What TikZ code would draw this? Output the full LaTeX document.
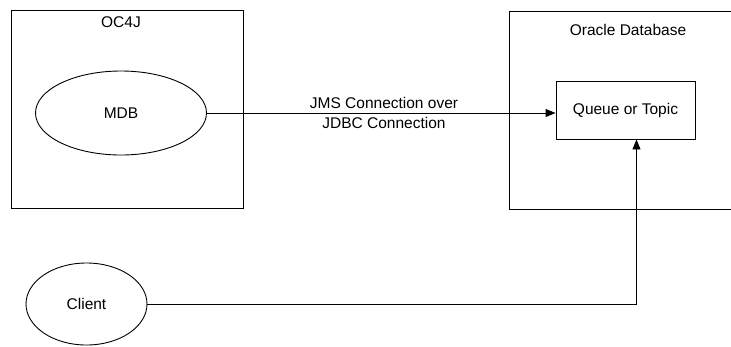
\documentclass[tikz,border=0pt]{standalone}
\usepackage{fontspec}
\setmainfont{Liberation Sans}
\usetikzlibrary{shapes.geometric,arrows.meta}

\begin{document}
\begin{tikzpicture}[x=1pt, y=-1pt, line width=0.9pt,
  every node/.style={font=\fontsize{15.5}{17}\selectfont},
  box/.style={draw, rectangle, inner sep=0pt},
  blob/.style={draw, ellipse, inner sep=0pt},
  link/.style={-{Triangle[length=10pt,width=8pt]}}]

\useasboundingbox (0, 0) rectangle (731, 346);
\clip (0, 0) rectangle (731, 346);

% containers
\node[box, minimum width=232pt, minimum height=198pt] (oc4j) at (127, 109.5) {};
\node[box, minimum width=260pt, minimum height=198pt, anchor=north west] (db) at (509, 10.5) {};
\node (oc4jname) at (121, 22) {OC4J};
\node (dbname) at (628, 30) {Oracle Database};

% parts
\node[blob, minimum width=171pt, minimum height=84pt] (mdb) at (121, 113) {MDB};
\node[box, minimum width=139pt, minimum height=58pt] (queue) at (625.5, 110) {Queue or Topic};
\node[blob, minimum width=121pt, minimum height=82pt] (client) at (86.5, 304) {Client};

% connections
\draw[link] (mdb.east) -- (mdb.east -| queue.west);
\node[align=center, inner sep=0pt] (jms) at (384, 113) {JMS Connection over\\[3pt]JDBC Connection};

\coordinate (turn) at (636.5, 304);
\draw[link] (client.east) -- (turn) -- (turn |- queue.south);

\end{tikzpicture}
\end{document}
